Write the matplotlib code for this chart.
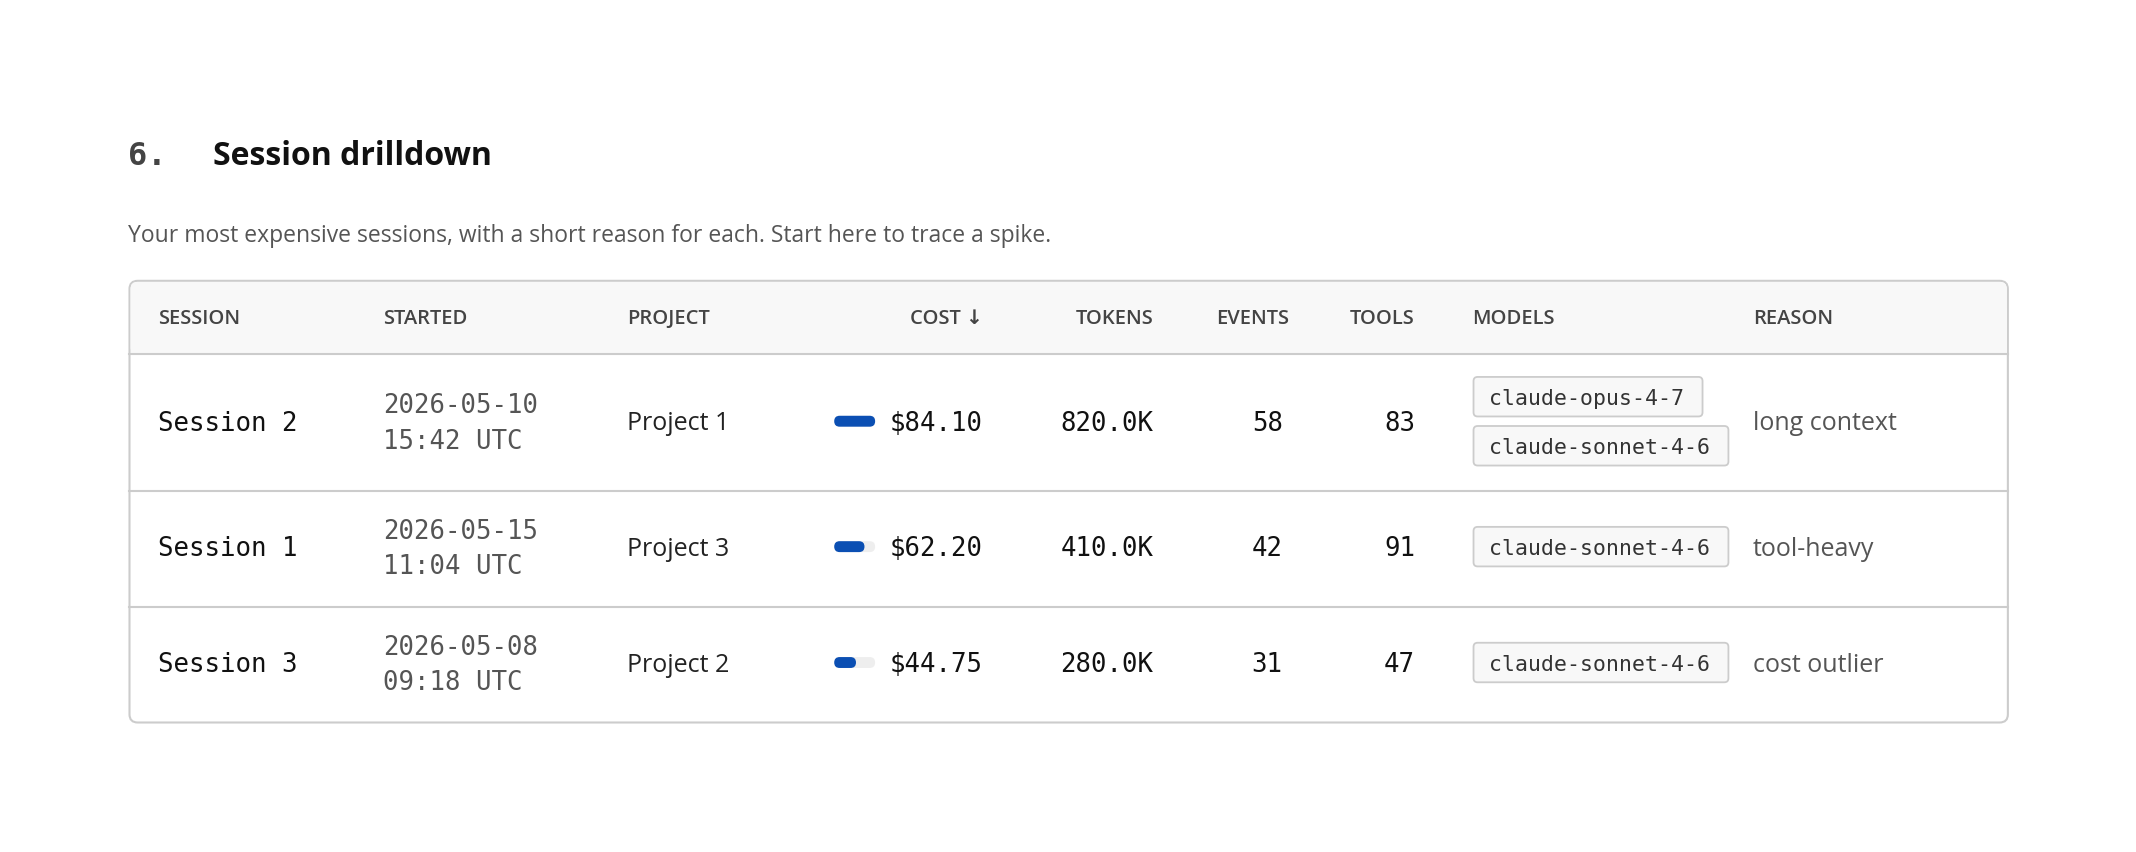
import matplotlib
matplotlib.use("Agg")
import matplotlib.pyplot as plt
from matplotlib.patches import FancyBboxPatch, Rectangle

sessions = ["Session 2", "Session 1", "Session 3"]
started_date = ["2026-05-10", "2026-05-15", "2026-05-08"]
started_time = ["15:42 UTC", "11:04 UTC", "09:18 UTC"]
projects = ["Project 1", "Project 3", "Project 2"]
costs = [84.10, 62.20, 44.75]
tokens = ["820.0K", "410.0K", "280.0K"]
events = [58, 42, 31]
tools = [83, 91, 47]
models = [["claude-opus-4-7", "claude-sonnet-4-6"], ["claude-sonnet-4-6"], ["claude-sonnet-4-6"]]
reasons = ["long context", "tool-heavy", "cost outlier"]
headers = ["SESSION", "STARTED", "PROJECT", "COST ↓", "TOKENS", "EVENTS", "TOOLS", "MODELS", "REASON"]

SANS = ["Open Sans", "DejaVu Sans"]
MONO = ["DejaVu Sans Mono"]

fig = plt.figure(figsize=(21.36, 8.52), dpi=100)
ax = fig.add_axes([0, 0, 1, 1])
ax.set_xlim(0, 1567)
ax.set_ylim(625, 0)
ax.axis("off")

d = 2  # text vertical nudge
ax.text(94, 113 + d, "6.", family=MONO, fontsize=23, fontweight="bold", color="#444", va="center")
ax.text(156, 113 + d, "Session drilldown", family=SANS, fontsize=23, fontweight="bold", color="#111", va="center")
ax.text(94, 171 + d, "Your most expensive sessions, with a short reason for each. Start here to trace a spike.",
        family=SANS, fontsize=16.5, color="#555", va="center")

L, R, T, B = 95, 1473, 206, 530
ax.add_patch(FancyBboxPatch((L, T), R - L, B - T, boxstyle="round,pad=0,rounding_size=6",
                            fc="white", ec="#cccccc", lw=1.5, zorder=1))
ax.add_patch(FancyBboxPatch((L + 0.8, T + 0.8), R - L - 1.6, 53, boxstyle="round,pad=0,rounding_size=5",
                            fc="#f8f8f8", ec="none", zorder=1.5))
ax.add_patch(Rectangle((L + 0.8, T + 20), R - L - 1.6, 34, fc="#f8f8f8", ec="none", zorder=1.5))
for y in [260, 360, 445]:
    ax.plot([L, R], [y, y], color="#cccccc", lw=1.5, zorder=2)

hx = [(116, "left"), (281, "left"), (460, "left"), (721, "right"), (846, "right"),
      (946, "right"), (1038, "right"), (1080, "left"), (1286, "left")]
for (x, ha), h in zip(hx, headers):
    ax.text(x, 232 + d, h, family=SANS, fontsize=14.5, fontweight="semibold", color="#444",
            ha=ha, va="center", zorder=3)

rows_y = [309, 401, 486]
cmax = max(costs)
pill_w = {"claude-opus-4-7": 168, "claude-sonnet-4-6": 187}
for i, y in enumerate(rows_y):
    ty = y + d
    ax.text(116, ty, sessions[i], family=MONO, fontsize=18.5, color="#111", va="center", zorder=3)
    ax.text(281, ty - 13, started_date[i], family=MONO, fontsize=18.5, color="#555", va="center", zorder=3)
    ax.text(281, ty + 13, started_time[i], family=MONO, fontsize=18.5, color="#555", va="center", zorder=3)
    ax.text(460, ty, projects[i], family=SANS, fontsize=18, color="#222", va="center", zorder=3)
    ax.add_patch(FancyBboxPatch((612, y - 4), 30, 8, boxstyle="round,pad=0,rounding_size=4",
                                fc="#eeeeee", ec="none", zorder=3))
    w = 30 * costs[i] / cmax
    ax.add_patch(FancyBboxPatch((612, y - 4), w, 8, boxstyle="round,pad=0,rounding_size=4",
                                fc="#0b4fb3", ec="none", zorder=4))
    ax.text(721, ty, f"${costs[i]:.2f}", family=MONO, fontsize=18.5, color="#111", ha="right", va="center", zorder=3)
    ax.text(846, ty, tokens[i], family=MONO, fontsize=18.5, color="#111", ha="right", va="center", zorder=3)
    ax.text(941, ty, str(events[i]), family=MONO, fontsize=18.5, color="#111", ha="right", va="center", zorder=3)
    ax.text(1038, ty, str(tools[i]), family=MONO, fontsize=18.5, color="#111", ha="right", va="center", zorder=3)
    ms = models[i]
    n = len(ms)
    for j, m in enumerate(ms):
        cy = y + (j - (n - 1) / 2) * 36
        ax.add_patch(FancyBboxPatch((1081, cy - 14.5), pill_w[m], 29, boxstyle="round,pad=0,rounding_size=3",
                                    fc="#f8f8f8", ec="#cccccc", lw=1.3, zorder=3))
        ax.text(1092, cy + 1.5, m, family=MONO, fontsize=15.5, color="#333", va="center", zorder=4)
    ax.text(1286, ty, reasons[i], family=SANS, fontsize=18, color="#555", va="center", zorder=3)

fig.savefig("out.png", dpi=100, facecolor="white")
